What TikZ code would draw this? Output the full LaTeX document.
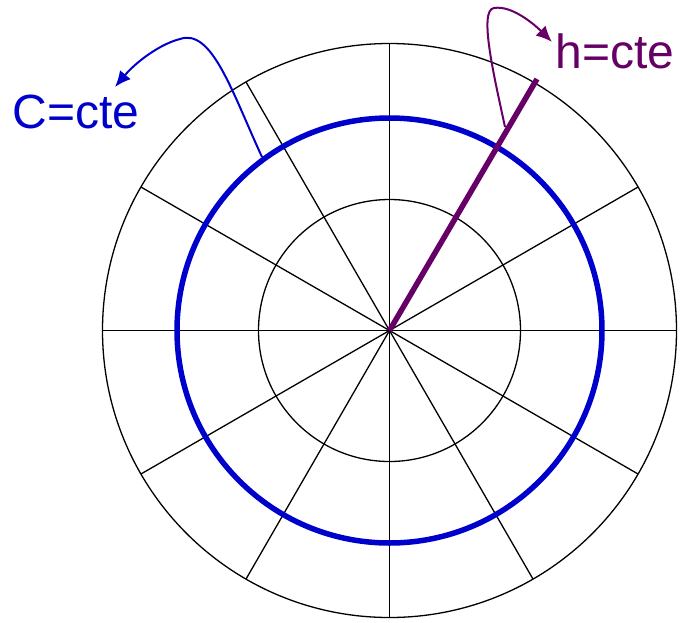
\documentclass[tikz,border=0pt]{standalone}
\usepackage{fontspec}
\setmainfont{Liberation Sans}
\usetikzlibrary{arrows.meta}
\definecolor{cblue}{RGB}{0,0,204}
\definecolor{cpurple}{RGB}{102,0,102}
\tikzset{
  grid/.style={draw=black, line width=1.3pt},
  cline/.style={draw=cblue, line width=5.5pt},
  hline/.style={draw=cpurple, line width=5.5pt},
  pointer/.style={line width=2pt, -{Latex[length=16pt,width=14pt]}},
  lab/.style={font=\fontsize{48}{52}\selectfont, inner sep=0pt}
}
\begin{document}
\begin{tikzpicture}[x=1pt,y=-1pt]
\useasboundingbox (0,0) rectangle (680,622);
\coordinate (O) at (389.5,330.5);
% grid circles
\draw[grid] (O) circle[radius=287];
\draw[grid] (O) circle[radius=131];
% spokes
\foreach \a in {0,30,...,330} {
  \draw[grid] (O) -- ++(\a:287);
}
% C = cte circle
\draw[cline] (O) circle[radius=212.5];
% h = cte ray
\coordinate (hend) at (537,79);
\draw[hline] (O) -- (hend);
% labels
\node[lab, text=cblue, anchor=base] (clab) at (76,128) {C=cte};
\node[lab, text=cpurple, anchor=base] (hlab) at (615,68) {h=cte};
% connectors
\coordinate (cs) at (262,157);
\coordinate (ct) at (115,87);
\draw[pointer, cblue] (cs) .. controls (232,92) and (212,28) .. (180,39) .. controls (160,44) and (136,62) .. (ct);
\coordinate (hs) at (505,127);
\coordinate (ht) at (552,42);
\draw[pointer, cpurple] (hs) .. controls (495,80) and (478,10) .. (494,8) .. controls (512,5) and (535,25) .. (ht);
\end{tikzpicture}
\end{document}
